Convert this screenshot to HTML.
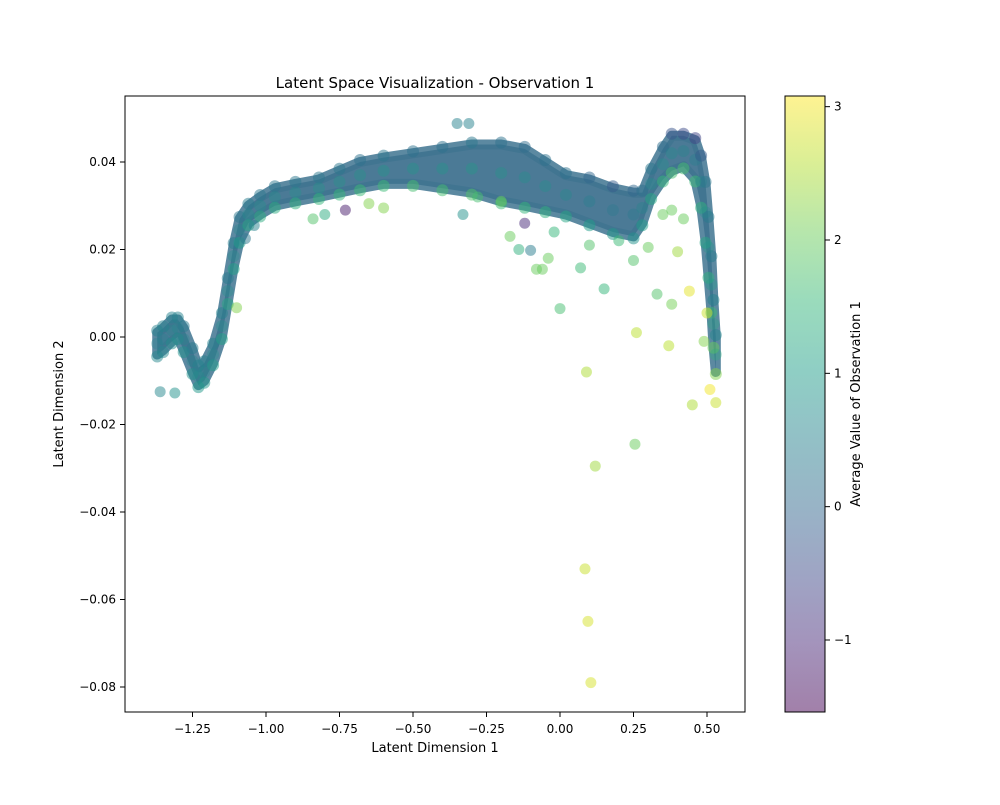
<!DOCTYPE html>
<html><head><meta charset="utf-8"><style>
body{margin:0;background:#fff;font-family:"Liberation Sans",sans-serif;}
svg text{font-family:"DejaVu Sans","Liberation Sans",sans-serif;fill:#000;}
</style></head><body>
<svg id="chart" width="1000" height="800" xmlns="http://www.w3.org/2000/svg">
<defs>
<linearGradient id="cbg" x1="0" y1="1" x2="0" y2="0"></linearGradient>
<clipPath id="clip"><rect x="125" y="96" width="620" height="616"/></clipPath>
</defs>
<rect width="1000" height="800" fill="#fff"/>
<text x="435" y="88" font-size="15" text-anchor="middle">Latent Space Visualization - Observation 1</text>
<g id="marks" clip-path="url(#clip)"></g>
<rect x="125" y="96" width="620" height="616" fill="none" stroke="#000" stroke-width="1"/>
<g id="xticks"></g>
<g id="yticks"></g>
<text x="435" y="752" font-size="13" text-anchor="middle">Latent Dimension 1</text>
<text transform="translate(63,404) rotate(-90)" font-size="13" text-anchor="middle">Latent Dimension 2</text>
<rect x="785" y="96" width="40" height="616" fill="url(#cbg)" stroke="#000" stroke-width="1"/>
<g id="cticks"></g>
<text transform="translate(860,404) rotate(-90)" font-size="13" text-anchor="middle">Average Value of Observation 1</text>
</svg>
<script>
const bandX=[-1.37,-1.35,-1.32,-1.30,-1.28,-1.25,-1.23,-1.21,-1.18,-1.15,-1.13,-1.11,-1.09,-1.06,-1.02,-0.97,-0.90,-0.82,-0.75,-0.68,-0.60,-0.50,-0.40,-0.30,-0.20,-0.12,-0.05,0.02,0.10,0.18,0.25,0.28,0.31,0.35,0.38,0.42,0.46,0.48,0.495,0.505,0.515,0.522,0.53];
const bandTop=[0.001,0.002,0.004,0.004,0.002,-0.003,-0.007,-0.006,-0.002,0.005,0.013,0.021,0.027,0.030,0.032,0.034,0.035,0.036,0.038,0.040,0.041,0.042,0.043,0.044,0.044,0.043,0.040,0.037,0.036,0.034,0.033,0.033,0.038,0.043,0.046,0.046,0.045,0.041,0.035,0.027,0.018,0.008,0.000];
const bandBottom=[-0.004,-0.003,-0.001,0.000,-0.003,-0.008,-0.011,-0.010,-0.006,0.000,0.008,0.016,0.022,0.026,0.028,0.030,0.031,0.032,0.033,0.034,0.035,0.035,0.034,0.033,0.031,0.030,0.029,0.028,0.026,0.024,0.023,0.026,0.032,0.036,0.038,0.039,0.036,0.030,0.022,0.014,0.006,-0.002,-0.008];
const topColor=[0.5,0.5,0.5,0.5,0.4,0.4,0.5,0.5,0.5,0.5,0.4,0.4,0.3,0.4,0.3,0.3,0.3,0.3,0.3,0.2,0.3,0.2,0.2,0.3,0.2,0.1,0.2,0.2,0.0,-0.2,0.0,0.2,0.3,0.1,-0.3,-0.5,-0.6,-0.2,0.3,0.4,0.4,0.5,0.6];
const bottomColor=[0.6,0.6,0.7,0.7,0.8,0.8,0.9,0.9,1.0,1.1,1.2,1.1,1.0,1.2,1.3,1.3,1.4,1.5,1.5,1.6,1.6,1.7,1.7,1.8,1.6,1.5,1.4,1.2,1.0,0.9,0.8,1.0,1.2,1.5,1.7,1.7,1.6,1.4,1.2,1.4,1.6,2.0,2.2];
const outX=[-1.36,-1.31,0.09,0.12,0.255,0.085,0.095,0.105,0.26,0.37,0.45,0.44,0.51,0.53,0.15,0.0,0.40,0.33,-0.35,-0.31,-0.33,-0.06,-0.08,-0.10,0.07,-0.04,-0.17,-0.60,-0.65,-0.84,-0.80,-1.10,0.25,0.30,0.38,0.42,0.38,-0.20,-0.12,-0.73,-1.04,-1.07,0.50,0.49,0.20,0.10,-0.02,-0.14,0.35,-0.28];
const outY=[-0.0125,-0.0128,-0.008,-0.0295,-0.0245,-0.053,-0.065,-0.079,0.001,-0.002,-0.0155,0.0105,-0.012,-0.015,0.011,0.0065,0.0195,0.0098,0.0488,0.0488,0.028,0.0155,0.0155,0.0198,0.0158,0.018,0.023,0.0295,0.0305,0.027,0.028,0.0067,0.0175,0.0205,0.0075,0.027,0.029,0.031,0.026,0.029,0.0255,0.0225,0.0055,-0.001,0.022,0.021,0.024,0.020,0.028,0.032];
const outC=[0.6,0.8,2.5,2.4,2.0,2.7,2.8,2.8,2.6,2.6,2.5,2.9,3.0,2.7,1.5,1.7,2.4,1.8,0.5,0.5,0.8,2.0,2.0,0.4,1.6,2.0,2.0,2.2,2.2,1.8,1.3,2.2,1.8,2.0,2.1,2.0,2.0,2.0,-1.0,-1.2,0.5,0.3,2.7,2.2,1.6,1.8,1.5,1.4,2.0,1.7];
const xTicks=[-1.25,-1.00,-0.75,-0.50,-0.25,0.00,0.25,0.50];
const yTicks=[0.04,0.02,0.00,-0.02,-0.04,-0.06,-0.08];
const cTicks=[3,2,1,0,-1];

const NS="http://www.w3.org/2000/svg";
const xS=v=>560+v*294;
const yS=v=>337-v*4375;
const vmin=-1.54,vmax=3.08;
const cS=v=>712-(v-vmin)/(vmax-vmin)*616;
const VIR=[[68,1,84],[72,40,120],[62,74,137],[49,104,142],[38,130,142],[31,158,137],[53,183,121],[109,205,89],[180,222,44],[253,231,37]];
function vir(c){let t=Math.max(0,Math.min(1,(c-vmin)/(vmax-vmin)))*(VIR.length-1);let i=Math.min(VIR.length-2,Math.floor(t)),f=t-i;
const a=VIR[i],b=VIR[i+1];return `rgb(${a.map((v,k)=>Math.round(v+(b[k]-v)*f)).join(',')})`;}
function mk(tag,attrs,parent){const e=document.createElementNS(NS,tag);for(const k in attrs)e.setAttribute(k,attrs[k]);parent.appendChild(e);return e;}
const marks=document.getElementById('marks');
let pts=bandX.map((x,i)=>xS(x)+','+yS(bandTop[i])).concat(bandX.map((x,i)=>xS(x)+','+yS(bandBottom[i])).reverse());
const poly=mk('polygon',{points:pts.join(' '),fill:'#3c6f8d','fill-opacity':0.92,stroke:'#3f7490','stroke-opacity':0.85,'stroke-width':10,'stroke-linejoin':'round'},marks);


bandX.forEach((x,i)=>{
  const mid=(bandTop[i]+bandBottom[i])/2;
  const a=mk('circle',{cx:xS(x),cy:yS(bandBottom[i])+2,r:6,fill:vir(bottomColor[i]),'fill-opacity':0.5},marks);
  
  
  const m=mk('circle',{cx:xS(x),cy:yS(mid),r:6,fill:vir((topColor[i]+bottomColor[i])/2),'fill-opacity':0.35},marks);
  
  
  const b=mk('circle',{cx:xS(x),cy:yS(bandTop[i])-2,r:6,fill:vir(topColor[i]),'fill-opacity':0.5},marks);
  
  
});
outX.forEach((x,i)=>{
  const c=mk('circle',{cx:xS(x),cy:yS(outY[i]),r:5.5,fill:vir(outC[i]),'fill-opacity':0.5},marks);
  
  
});
const xg=document.getElementById('xticks');
xTicks.forEach(v=>{
  const l=mk('line',{x1:xS(v),x2:xS(v),y1:712,y2:717,stroke:'#000'},xg);
  
  
  const t=mk('text',{x:xS(v),y:733,'font-size':12,'text-anchor':'middle'},xg);
  t.textContent=(v<0?'\u2212':'')+Math.abs(v).toFixed(2);
  
  
});
const yg=document.getElementById('yticks');
yTicks.forEach(v=>{
  const l=mk('line',{x1:120,x2:125,y1:yS(v),y2:yS(v),stroke:'#000'},yg);
  
  
  const t=mk('text',{x:116,y:yS(v)+4,'font-size':12,'text-anchor':'end'},yg);
  t.textContent=(v<0?'\u2212':'')+Math.abs(v).toFixed(2);
  
  
});
const grad=document.getElementById('cbg');
for(let k=0;k<=9;k++){const c=vmin+(vmax-vmin)*k/9;mk('stop',{offset:(k/9),'stop-color':vir(c),'stop-opacity':0.5},grad);}
const cg=document.getElementById('cticks');
cTicks.forEach(v=>{
  const l=mk('line',{x1:825,x2:830,y1:cS(v),y2:cS(v),stroke:'#000'},cg);
  
  
  const t=mk('text',{x:834,y:cS(v)+4,'font-size':12},cg);
  t.textContent=(v<0?'\u2212':'')+Math.abs(v);
  
  
});
</script>
</body></html>
